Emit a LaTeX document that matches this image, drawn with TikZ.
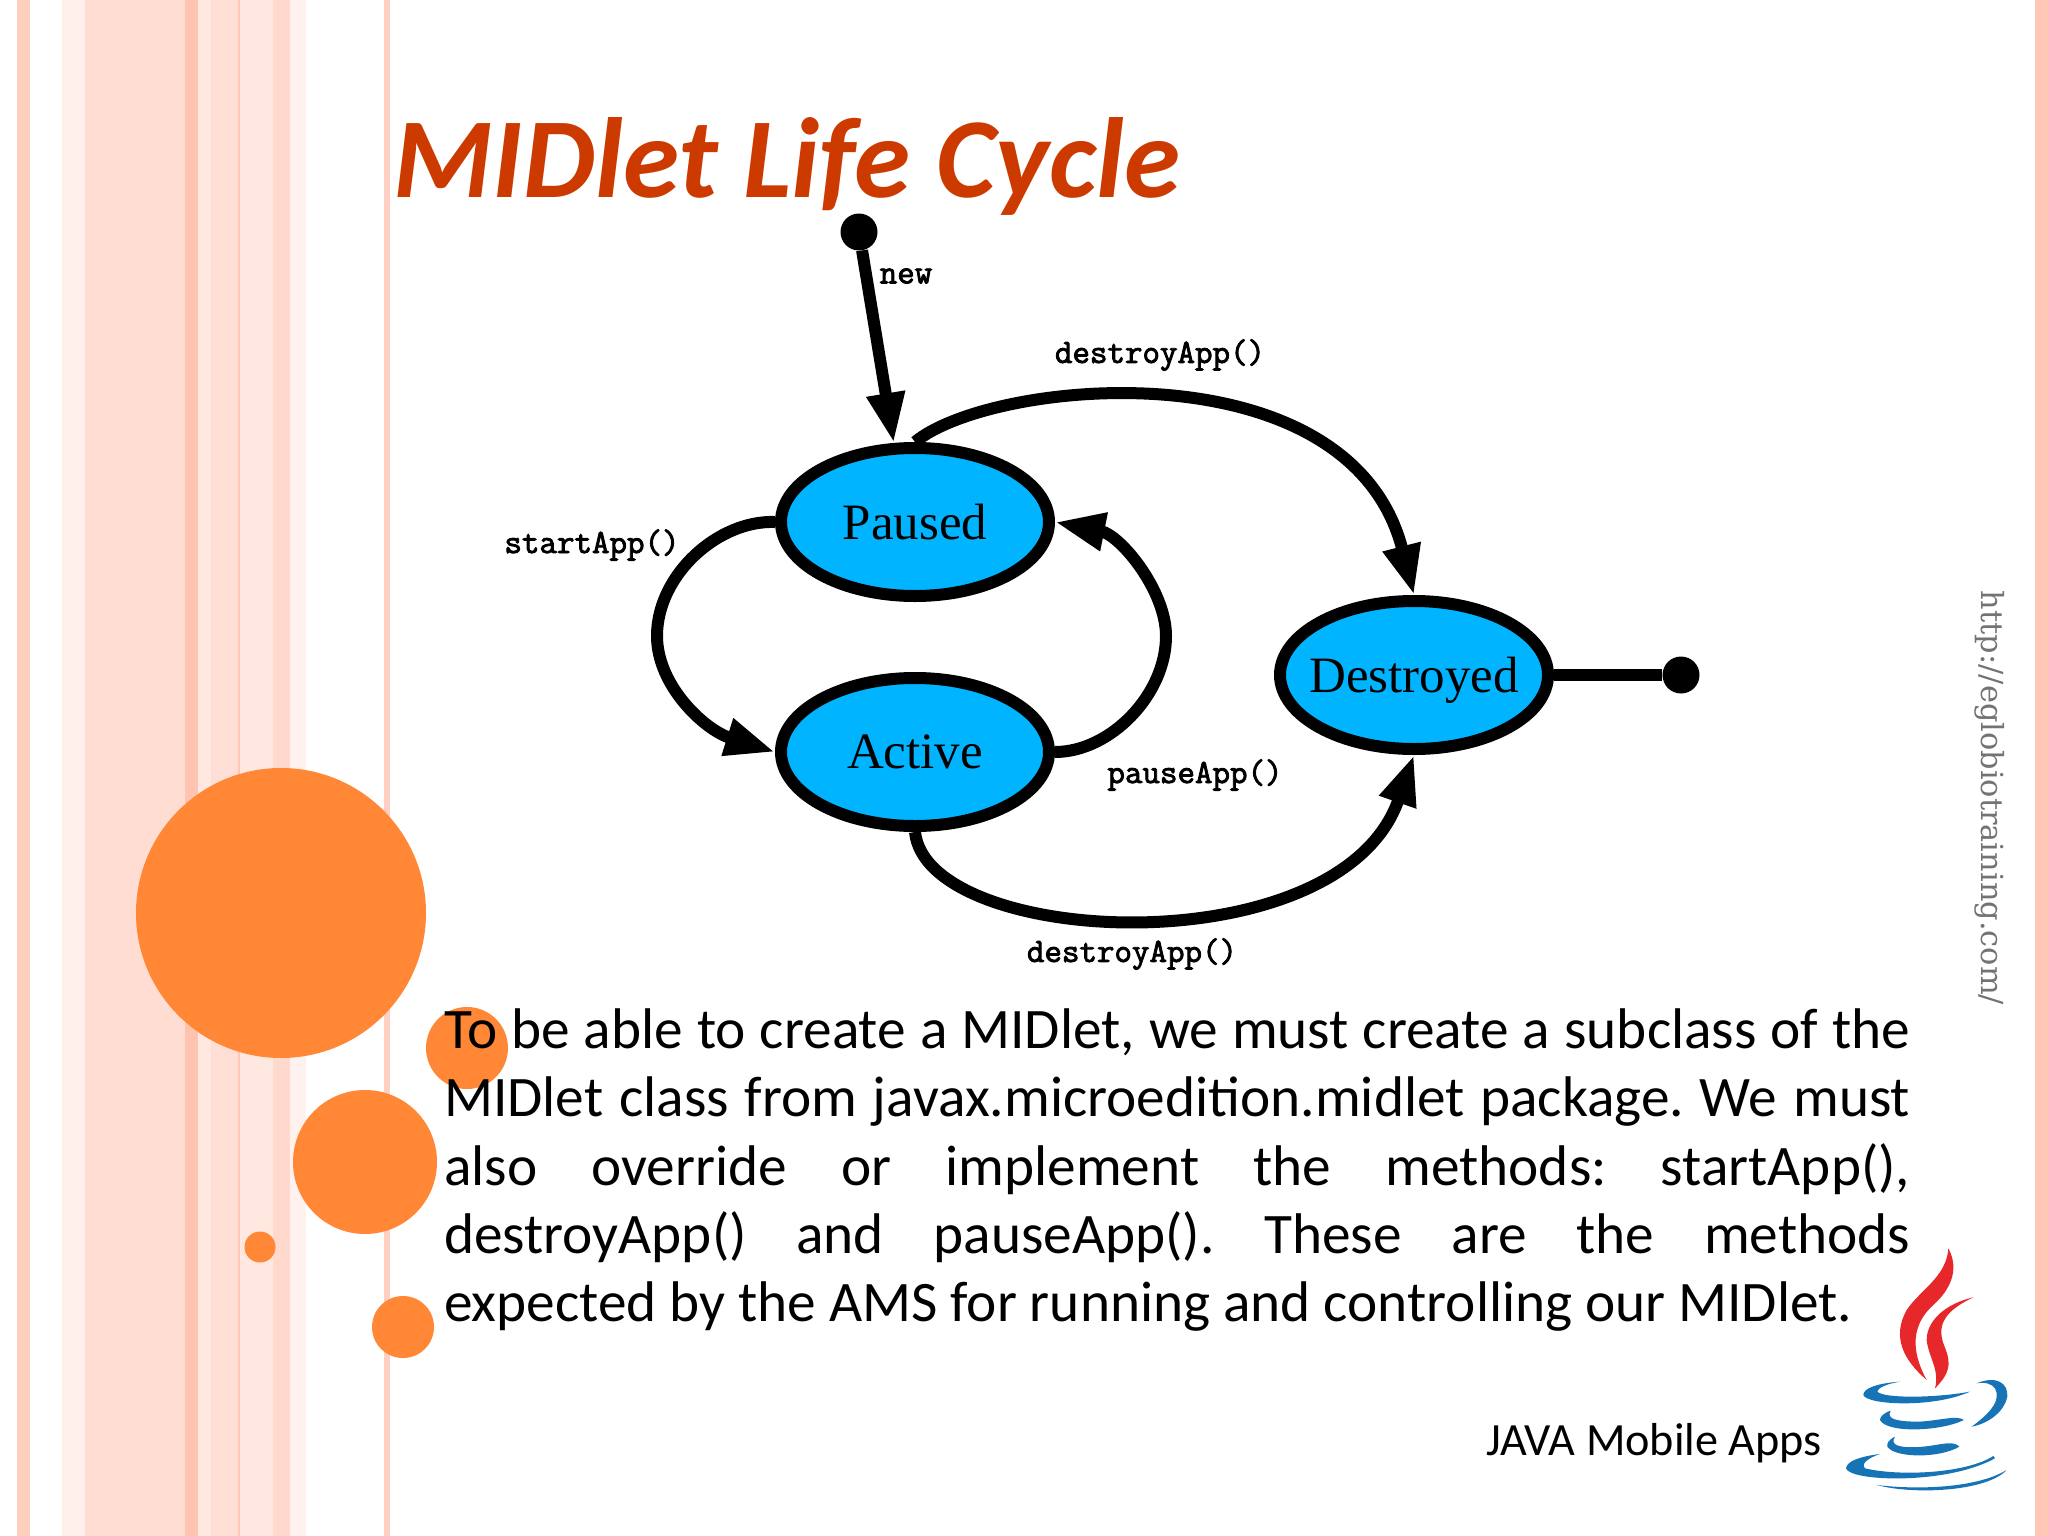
\documentclass[tikz,border=0pt]{standalone}
\usepackage{fontspec}
\setmainfont{Carlito}
\newfontfamily\timesfont{Liberation Serif}
\newfontfamily\urlfont{DejaVu Serif}
\newfontfamily\callfont[FakeBold=2.5]{Latin Modern Mono}
\usepackage{tikz}
\usetikzlibrary{shapes.geometric, arrows.meta, positioning}

\definecolor{titlered}{HTML}{CC3A00}
\definecolor{bubble}{HTML}{FF8736}
\definecolor{statefill}{HTML}{00B4FF}
\definecolor{javablue}{HTML}{1573B6}
\definecolor{javared}{HTML}{E7282B}

\tikzset{
    state/.style={ellipse, draw=black, line width=12pt, fill=statefill, inner sep=0pt, text depth=0pt, minimum width=268pt, minimum height=148pt, font=\timesfont\fontsize{51}{51}\selectfont},
    dot/.style={circle, fill=black, minimum size=37pt, inner sep=0pt},
    flow/.style={line width=12pt, -{Triangle[length=50pt, width=36pt]}},
    call/.style={font=\callfont\fontsize{34}{34}\selectfont, inner sep=0pt},
    bubblecircle/.style={circle, fill=bubble, inner sep=0pt}
}

\begin{document}
\begin{tikzpicture}[x=1pt, y=-1pt]
    \useasboundingbox (0,0) rectangle (2048,1536);
    \fill[white] (0,0) rectangle (2048,1536);

    \foreach \xa/\xb/\shade in {17/30/FFCFBE, 62/85/FFF0EB, 85/185/FFDDD2, 185/198/FFC4AF, 198/211/FFE8E2,
        211/238/FFDFD5, 238/240/FFC8B5, 240/273/FFE8E0, 273/290/FFD9CC, 290/306/FFF1ED, 384/390/FFD0C2, 2035/2048/FFC8B4} {
        \definecolor{stripe}{HTML}{\shade}
        \fill[stripe] (\xa,0) rectangle (\xb,1536);
    }

    \node[bubblecircle, minimum size=290pt] (bubble1) at (281,913) {};
    \node[bubblecircle, minimum size=82pt] (bubble2) at (467,1048) {};
    \node[bubblecircle, minimum size=144pt] (bubble3) at (365,1162) {};
    \node[bubblecircle, minimum size=31pt] (bubble4) at (260,1247) {};
    \node[bubblecircle, minimum size=62pt] (bubble5) at (403,1327) {};

    \node[anchor=base west, inner sep=0pt, text=titlered, font=\bfseries\itshape\fontsize{114}{114}\selectfont] (title) at (393,197) {MIDlet Life Cycle};

    \node[state] (paused) at (915,522) {Paused};
    \node[state, below of=paused, node distance=230pt] (active) {Active};
    \node[state] (destroyed) at (1414,675) {\makebox[0pt]{Destroyed}};
    \node[dot] (start) at (859,232) {};
    \node[dot, right of=destroyed, node distance=267pt] (end) {};
    \coordinate (startbend) at (657,636);
    \coordinate (pausebend) at (1166,636);

    \draw[flow] (start) -- (paused.105);
    \draw[line width=12pt] (destroyed) -- (end);
    \draw[flow] (paused.north) .. controls (993,378) and (1350,345) .. (destroyed.north);
    \draw[flow] (active.south) .. controls (927,948) and (1340,968) .. (destroyed.south);
    \draw[flow] (paused.west) .. controls (718,520) and (657,575) .. (startbend) .. controls (657,686) and (705,730) .. (active.west);
    \draw[flow] (active.east) .. controls (1110,752) and (1166,695) .. (pausebend) .. controls (1166,590) and (1120,535) .. (paused.east);

    \node[call] (newlabel) at (906,276) {new};
    \node[call] (destroylabel) at (1160,355) {destroyApp()};
    \node[call] (startlabel) at (592,545) {startApp()};
    \node[call] (pauselabel) at (1195,775) {pauseApp()};
    \node[call] (destroylabeltwo) at (1132,954) {destroyApp()};

    \node[anchor=base west, inner sep=0pt, text width=1466pt, align=justify, font=\frenchspacing\fontsize{57.3}{68.3}\selectfont] (body) at (444,1048.5) {To be able to create a MIDlet, we must create a subclass of the\linebreak
        MIDlet class from javax.microedition.midlet package. We must\linebreak
        also override or implement the methods: startApp(),\linebreak
        destroyApp() and pauseApp(). These are the methods\linebreak
        expected by the AMS for running and controlling our MIDlet.};

    \node[anchor=base west, inner sep=0pt, font=\fontsize{46.2}{46.2}\selectfont] (footer) at (1486,1455) {JAVA Mobile Apps};
    \node[rotate=-90, inner sep=0pt, text=black!55, font=\urlfont\fontsize{30.4}{30.4}\selectfont] (url) at (1990,798) {http://eglobiotraining.com/};

    \begin{scope}[shift={(1800,1220)}, x=0.3333pt, y=-0.3333pt]
        \fill[javared] (445,85) .. controls (480,150) and (450,210) .. (400,255) .. controls (350,300) and (320,370) .. (380,480)
            .. controls (310,420) and (275,350) .. (320,270) .. controls (360,210) and (440,170) .. (445,85) -- cycle;
        \fill[javared] (520,232) .. controls (440,270) and (410,310) .. (430,370) .. controls (450,420) and (460,450) .. (405,505)
            .. controls (420,450) and (385,410) .. (380,360) .. controls (380,300) and (440,250) .. (520,232) -- cycle;
        \fill[javablue] (300,485) .. controls (230,490) and (190,505) .. (190,525) .. controls (200,555) and (400,565) .. (510,515)
            .. controls (400,535) and (250,535) .. (232,515) .. controls (235,500) and (270,490) .. (300,485) -- cycle;
        \fill[javablue] (530,490) .. controls (590,465) and (625,490) .. (622,530) .. controls (615,570) and (570,610) .. (515,620)
            .. controls (570,580) and (605,540) .. (585,505) .. controls (575,490) and (550,485) .. (530,490) -- cycle;
        \fill[javablue] (272,572) .. controls (250,580) and (240,590) .. (240,600) .. controls (260,640) and (420,635) .. (492,600)
            .. controls (470,585) and (430,600) .. (360,605) .. controls (300,605) and (255,600) .. (272,572) -- cycle;
        \fill[javablue] (285,650) .. controls (265,660) and (260,670) .. (262,680) .. controls (285,715) and (420,715) .. (478,680)
            .. controls (460,660) and (420,675) .. (370,680) .. controls (310,685) and (265,680) .. (285,650) -- cycle;
        \fill[javablue] (240,702) .. controls (175,710) and (140,725) .. (138,745) .. controls (150,785) and (440,795) .. (585,715)
            -- (580,708) .. controls (500,760) and (300,770) .. (195,745) .. controls (180,730) and (210,712) .. (240,702) -- cycle;
        \fill[javablue] (230,795) .. controls (350,810) and (530,805) .. (620,750) .. controls (560,815) and (340,825) .. (230,795) -- cycle;
    \end{scope}
\end{tikzpicture}
\end{document}
